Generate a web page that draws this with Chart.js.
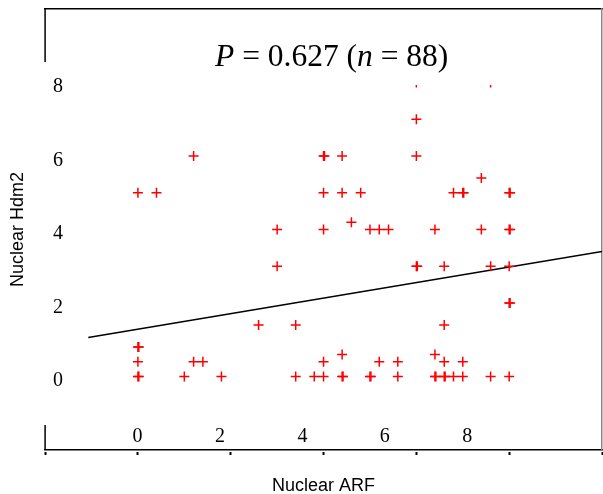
<!DOCTYPE html>
<html>
<head>
<meta charset="utf-8">
<script src="https://cdn.jsdelivr.net/npm/chart.js@4.4.1/dist/chart.umd.min.js"></script>
<style>
html,body{margin:0;padding:0;background:#fff;}
#wrap{position:relative;width:603px;height:494px;}
#titolo{position:absolute;left:212px;top:40px;width:290px;height:45px;background:#fff;padding-left:3px;
  font-family:"Liberation Serif","Times New Roman",serif;font-size:31.5px;line-height:32px;color:#000;white-space:nowrap;}
</style>
</head>
<body>
<div id="wrap">
  <canvas id="grafico" width="603" height="494"></canvas>
  <div id="titolo"><i>P</i> = 0.627 (<i>n</i> = 88)</div>
</div>
<script>
// valori: Nuclear ARF (x) e Nuclear Hdm2 (y)
var arf = [
  0, 0.02, 1.0, 1.8, 3.4, 3.8, 4.0, 4.4, 4.42, 5.0, 5.02, 5.6, 6.4, 6.42, 6.6, 6.62, 6.8, 7.0, 7.6, 8.0,
  0, 1.2, 1.4, 4.0, 5.2, 5.6, 6.6, 7.0,
  4.4, 6.4,
  0, 0.02,
  2.6, 3.4, 6.6,
  8.0, 8.02,
  3.0, 6.0, 6.02, 6.6, 7.6, 8.0,
  3.0, 4.0, 5.0, 5.2, 5.4, 6.4, 7.4, 8.0, 8.02,
  4.6,
  0, 0.4, 4.0, 4.4, 4.8, 6.8, 7.0, 7.02, 8.0, 8.02,
  7.4,
  1.2, 4.0, 4.02, 4.4, 6.0,
  6.0,
  6.0, 7.6
];
var hdm2 = [
  0, 0, 0, 0, 0, 0, 0, 0, 0, 0, 0, 0, 0, 0, 0, 0, 0, 0, 0, 0,
  0.4, 0.4, 0.4, 0.4, 0.4, 0.4, 0.4, 0.4,
  0.6, 0.6,
  0.8, 0.8,
  1.4, 1.4, 1.4,
  2.0, 2.0,
  3.0, 3.0, 3.0, 3.0, 3.0, 3.0,
  4.0, 4.0, 4.0, 4.0, 4.0, 4.0, 4.0, 4.0, 4.0,
  4.2,
  5.0, 5.0, 5.0, 5.0, 5.0, 5.0, 5.0, 5.0, 5.0, 5.0,
  5.4,
  6.0, 6.0, 6.0, 6.0, 6.0,
  7.0,
  8.0, 8.0
];
// retta di regressione (estremi)
var rettaX = [-1.07, 10];
var rettaY = [1.06, 3.40];
// etichette degli assi
var tickX = [0, 2, 4, 6, 8];
var tickY = [0, 2, 4, 6, 8];

var punti = [];
for (var i = 0; i < arf.length; i++) {
  punti.push({x: arf[i], y: hdm2[i]});
}
var retta = [];
for (var i = 0; i < rettaX.length; i++) {
  retta.push({x: rettaX[i], y: rettaY[i]});
}

// bordo sinistro interrotto come nell'originale
var bordoSinistro = {
  id: 'bordoSinistro',
  afterDraw: function(chart) {
    var a = chart.chartArea, ctx = chart.ctx;
    ctx.save();
    ctx.strokeStyle = '#000';
    ctx.lineWidth = 1.5;
    ctx.beginPath();
    ctx.moveTo(a.left, a.top);
    ctx.lineTo(a.left, a.top + 53);
    ctx.moveTo(a.left, a.bottom - 25);
    ctx.lineTo(a.left, a.bottom);
    ctx.stroke();
    ctx.restore();
  }
};

var serif = {family: '"Liberation Serif", "Times New Roman", serif', size: 20};
// lineHeight piccolo: evita che l'asse y allarghi il margine superiore
var serifY = {family: '"Liberation Serif", "Times New Roman", serif', size: 20, lineHeight: 0.05};
var sans = {family: '"Liberation Sans", Arial, sans-serif', size: 18};

var ctx = document.getElementById('grafico').getContext('2d');
var chart = new Chart(ctx, {
  type: 'scatter',
  data: {
    datasets: [{
      label: 'campioni',
      data: punti,
      pointStyle: 'cross',
      pointRadius: 5,
      pointHoverRadius: 5,
      borderColor: '#ff0000',
      backgroundColor: '#ff0000',
      borderWidth: 1.5
    }, {
      label: 'regressione',
      data: retta,
      showLine: true,
      pointRadius: 0,
      borderColor: '#000',
      borderWidth: 1.5
    }]
  },
  options: {
    responsive: false,
    devicePixelRatio: 1,
    animation: false,
    layout: {autoPadding: false, padding: {left: 0, right: 1, top: 9, bottom: 0}},
    plugins: {legend: {display: false}, tooltip: {enabled: false}, title: {display: false}},
    scales: {
      x: {
        type: 'linear', position: 'bottom', weight: 1,
        min: -2, max: 10,
        ticks: {display: false, stepSize: 2},
        grid: {display: true, drawOnChartArea: false, drawTicks: true, tickLength: 3, tickWidth: 2, tickColor: '#000'},
        border: {display: false},
        title: {display: true, text: 'Nuclear ARF', color: '#000', font: sans, padding: {top: 19.9, bottom: -2.5}}
      },
      xl: {
        type: 'linear', position: 'bottom', weight: 0,
        min: -2.245, max: 11.27,
        afterBuildTicks: function(s) { s.ticks = tickX.map(function(v){ return {value: v}; }); },
        ticks: {mirror: true, padding: 1, color: '#000', font: serif, maxRotation: 0, autoSkip: false},
        grid: {display: false, drawTicks: false},
        border: {display: true, color: '#000', width: 1.5}
      },
      xt: {
        type: 'linear', position: 'top', min: 0, max: 1,
        ticks: {display: false},
        grid: {display: false, drawTicks: false},
        border: {display: true, color: '#000', width: 1.5}
      },
      y: {
        type: 'linear', position: 'left',
        min: -2, max: 10,
        afterBuildTicks: function(s) { s.ticks = tickY.map(function(v){ return {value: v}; }); },
        ticks: {mirror: true, padding: 8, labelOffset: 4.5, color: '#000', font: serifY, autoSkip: false},
        grid: {display: false, drawTicks: false},
        border: {display: false},
        title: {display: true, text: 'Nuclear Hdm2', color: '#000', font: sans, padding: {top: 7.5, bottom: 0}}
      },
      yr: {
        type: 'linear', position: 'right', min: 0, max: 1,
        ticks: {display: false},
        grid: {display: false, drawTicks: false},
        border: {display: true, color: '#888', width: 1.5}
      }
    }
  },
  plugins: [bordoSinistro]
});
</script>
</body>
</html>
